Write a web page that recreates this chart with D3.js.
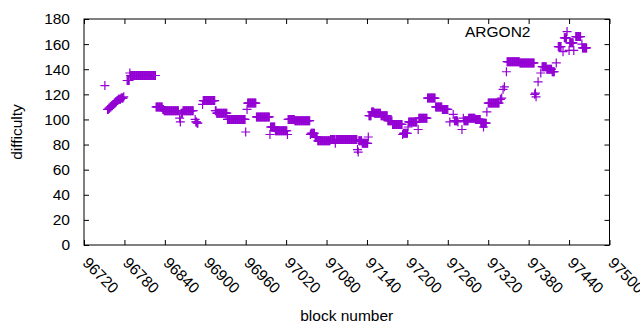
<!DOCTYPE html>
<html>
<head>
<meta charset="utf-8">
<script src="https://cdn.jsdelivr.net/npm/d3@7"></script>
<style>
  body { margin: 0; background: #fff; }
  text { font-family: "Liberation Sans", Arial, sans-serif; }
</style>
</head>
<body>
<div id="plot"></div>
<script>
const runStart = [96751, 96755, 96757, 96759, 96761, 96763, 96765, 96767, 96769, 96771, 96775, 96779,
  96784, 96788, 96789, 96827, 96837, 96839, 96862, 96863, 96864, 96867, 96885, 96886, 96888,
  96896, 96897, 96915, 96917, 96933, 96960, 96962, 96963, 96976, 96996, 96997, 97004, 97022,
  97023, 97033, 97056, 97057, 97063, 97067, 97086, 97093, 97094, 97126, 97127, 97128, 97133,
  97142, 97143, 97147, 97151, 97161, 97171, 97178, 97193, 97194, 97201, 97202, 97216, 97217,
  97230, 97242, 97252, 97263, 97268, 97270, 97275, 97281, 97283, 97284, 97291, 97301, 97309,
  97313, 97318, 97320, 97338, 97340, 97342, 97344, 97347, 97348, 97367, 97389, 97390, 97391,
  97394, 97398, 97400, 97407, 97415, 97421, 97424, 97431, 97433, 97437, 97440, 97441, 97447,
  97450, 97459, 97460];
const runEnd = [96751, 96756, 96758, 96760, 96762, 96764, 96766, 96768, 96770, 96774, 96778, 96779,
  96787, 96788, 96826, 96836, 96838, 96860, 96862, 96863, 96866, 96882, 96885, 96887, 96889,
  96896, 96914, 96916, 96932, 96959, 96960, 96962, 96975, 96995, 96996, 97003, 97021, 97022,
  97032, 97055, 97056, 97062, 97066, 97085, 97092, 97093, 97125, 97126, 97127, 97132, 97141,
  97142, 97146, 97150, 97160, 97170, 97177, 97192, 97193, 97200, 97201, 97214, 97216, 97229,
  97241, 97251, 97260, 97263, 97268, 97274, 97275, 97281, 97283, 97290, 97300, 97308, 97317,
  97313, 97318, 97336, 97338, 97340, 97342, 97344, 97347, 97366, 97388, 97389, 97390, 97391,
  97394, 97398, 97406, 97414, 97418, 97421, 97428, 97431, 97436, 97437, 97440, 97446, 97447,
  97457, 97459, 97466];
const runValue = [127, 108, 109, 110, 111, 112, 113, 114, 115, 116, 117, 118,
  131, 137, 135, 110, 108, 107, 101, 98, 105, 107, 100, 98, 97,
  112, 115, 107, 105, 100, 90, 108, 113, 102, 88, 94, 91, 88,
  100, 99, 88, 89, 86, 83, 84, 81, 84, 76, 74, 83, 81,
  86, 103, 106, 105, 103, 99, 96, 88, 89, 94, 98, 92, 101,
  117, 110, 108, 98, 104, 99, 98, 92, 101, 99, 101, 100, 97,
  94, 106, 113, 116, 117, 124, 126, 138, 146, 145, 120, 121, 118,
  130, 137, 142, 140, 138, 145, 158, 154, 165, 170, 155, 161, 155,
  166, 160, 157];

const xTicks = [96720, 96780, 96840, 96900, 96960, 97020, 97080, 97140, 97200, 97260, 97320, 97380, 97440, 97500];
const yTicks = [0, 20, 40, 60, 80, 100, 120, 140, 160, 180];
const seriesName = "ARGON2";

// expand runs into one point per block
const points = [];
runStart.forEach((s, i) => {
    for (let b = s; b <= runEnd[i]; b++) points.push({ block: b, difficulty: runValue[i] });
});

const svgWidth = 640;
const svgHeight = 330;
const margin = { top: 19, right: 30.5, bottom: 85, left: 84 };
const width = svgWidth - margin.left - margin.right;
const height = svgHeight - margin.top - margin.bottom;

const svg = d3.select("#plot")
    .append("svg")
    .attr("width", svgWidth)
    .attr("height", svgHeight);

const g = svg.append("g")
    .attr("transform", `translate(${margin.left}, ${margin.top})`);

const xScale = d3.scaleLinear().domain([96720, 97500]).range([0, width]);
const yScale = d3.scaleLinear().domain([0, 180]).range([height, 0]);

// axes, ticks pointing inward like gnuplot
const xAxis = g.append("g")
    .attr("transform", `translate(0, ${height})`)
    .call(d3.axisBottom(xScale).tickValues(xTicks).tickSize(-5).tickFormat(d3.format("d")));
xAxis.selectAll("text")
    .attr("x", 0)
    .attr("y", 0)
    .attr("dy", "0.35em")
    .attr("text-anchor", "start")
    .attr("transform", "translate(1, 15) rotate(45)");

g.append("g")
    .call(d3.axisLeft(yScale).tickValues(yTicks).tickSize(-5).tickPadding(14));
g.append("g")
    .call(d3.axisTop(xScale).tickValues(xTicks).tickSize(-5).tickFormat(""));
g.append("g")
    .attr("transform", `translate(${width}, 0)`)
    .call(d3.axisRight(yScale).tickValues(yTicks).tickSize(-5).tickFormat(""));

g.selectAll(".domain").remove();
g.selectAll(".tick line").attr("stroke", "#000");
g.selectAll(".tick text")
    .attr("fill", "#000")
    .style("font-size", "15.5px")
    .style("font-family", "'Liberation Sans', Arial, sans-serif");

g.append("rect")
    .attr("x", 0)
    .attr("y", 0)
    .attr("width", width)
    .attr("height", height)
    .attr("fill", "none")
    .attr("stroke", "#000")
    .attr("stroke-width", 1);

// points as '+' marks
g.selectAll(".pt")
    .data(points)
    .enter()
    .append("path")
    .attr("class", "pt")
    .attr("d", "M-4.5,0H4.5M0,-4.5V4.5")
    .attr("transform", d => `translate(${xScale(d.block)}, ${yScale(d.difficulty)})`)
    .attr("stroke", "#9400d3")
    .attr("stroke-width", 1.2)
    .attr("fill", "none");

// key
svg.append("text")
    .attr("x", 465)
    .attr("y", 37)
    .style("font-size", "15.5px")
    .text(seriesName);

// axis labels
svg.append("text")
    .attr("transform", `translate(22, ${margin.top + height / 2}) rotate(-90)`)
    .attr("text-anchor", "middle")
    .style("font-size", "15.5px")
    .text("difficulty");

svg.append("text")
    .attr("x", margin.left + width / 2)
    .attr("y", 321)
    .attr("text-anchor", "middle")
    .style("font-size", "15.5px")
    .text("block number");
</script>
</body>
</html>
